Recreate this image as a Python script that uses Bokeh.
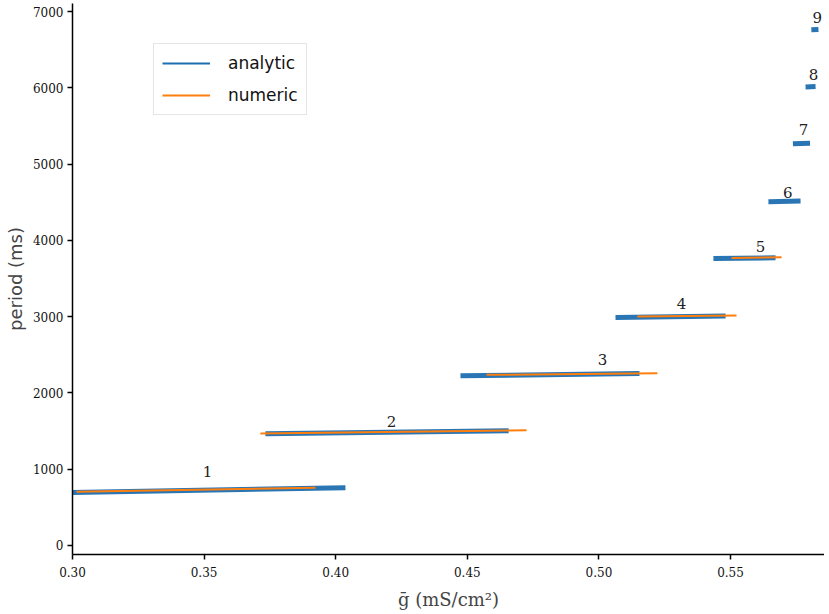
from bokeh.plotting import figure
from bokeh.models import Range1d, FixedTicker, NumeralTickFormatter, Legend, LegendItem, ColumnDataSource
from bokeh.core.properties import value
from bokeh.embed import file_html
from bokeh.resources import INLINE

# ---- data ----
analytic_x0 = [0.3000, 0.3733, 0.4474, 0.5063, 0.5435, 0.5644, 0.5737, 0.5785, 0.5807]
analytic_x1 = [0.4037, 0.4657, 0.5154, 0.5481, 0.5671, 0.5766, 0.5802, 0.5823, 0.5834]
analytic_y0 = [695, 1464, 2224, 2990, 3763, 4505, 5265, 6012, 6760]
analytic_y1 = [757, 1505, 2254, 3010, 3772, 4515, 5272, 6018, 6765]

numeric_x0 = [0.3015, 0.3714, 0.4573, 0.5146, 0.5504]
numeric_x1 = [0.3923, 0.4725, 0.5222, 0.5523, 0.5694]
numeric_y0 = [705, 1468, 2237, 3001, 3768]
numeric_y1 = [757, 1510, 2258, 3014, 3778]

label_text = ["1", "2", "3", "4", "5", "6", "7", "8", "9"]
label_x = [0.3513, 0.4212, 0.5014, 0.5314, 0.5614, 0.5717, 0.5777, 0.5815, 0.5830]
label_y = [970, 1625, 2440, 3170, 3920, 4630, 5450, 6175, 6920]

x_ticks = [0.30, 0.35, 0.40, 0.45, 0.50, 0.55]
y_ticks = [0, 1000, 2000, 3000, 4000, 5000, 6000, 7000]

BLUE = "#1f6fb0"
ORANGE = "#ff7f0e"
nan = float("nan")

p = figure(width=824, height=612, output_backend="svg", toolbar_location=None,
           x_range=Range1d(0.30, 0.5857), y_range=Range1d(-118, 7105),
           min_border_left=72, min_border_bottom=51, min_border_top=3, min_border_right=0)

p.outline_line_color = None
p.xgrid.visible = False
p.ygrid.visible = False

a_src = ColumnDataSource(dict(xs=[[a, b] for a, b in zip(analytic_x0, analytic_x1)],
                              ys=[[a, b] for a, b in zip(analytic_y0, analytic_y1)]))
n_src = ColumnDataSource(dict(xs=[[a, b] for a, b in zip(numeric_x0, numeric_x1)],
                              ys=[[a, b] for a, b in zip(numeric_y0, numeric_y1)]))

p.multi_line("xs", "ys", source=a_src, line_color=BLUE, line_width=5, line_alpha=0.95)
p.multi_line("xs", "ys", source=n_src, line_color=ORANGE, line_width=2)

p.text(x=label_x, y=label_y, text=label_text, text_align="center", text_baseline="middle",
       text_font=value("DejaVu Serif"), text_font_size="15px", text_color="#222222")

# legend proxies (thin lines, no visible data)
la = p.line(x=[nan, nan], y=[nan, nan], line_color=BLUE, line_width=2)
ln = p.line(x=[nan, nan], y=[nan, nan], line_color=ORANGE, line_width=2)
legend = Legend(items=[LegendItem(label="analytic", renderers=[la]),
                       LegendItem(label="numeric", renderers=[ln])],
                location=(81, 439))
legend.label_text_font = "DejaVu Sans"
legend.label_text_font_size = "17px"
legend.label_text_color = "#111111"
legend.glyph_width = 48
legend.glyph_height = 22
legend.label_standoff = 18
legend.spacing = 10
legend.padding = 8
legend.margin = 0
legend.border_line_color = "#cccccc"
legend.border_line_width = 1
legend.background_fill_alpha = 1.0
p.add_layout(legend, "center")

for ax in (p.xaxis[0], p.yaxis[0]):
    ax.axis_line_width = 1.5
    ax.axis_line_color = "black"
    ax.major_tick_line_width = 1.5
    ax.major_tick_out = 5
    ax.major_tick_in = 0
    ax.minor_tick_line_color = None
    ax.major_label_text_font = "DejaVu Serif"
    ax.major_label_text_font_size = "12px"
    ax.major_label_text_color = "#111111"

p.xaxis.ticker = FixedTicker(ticks=x_ticks)
p.yaxis.ticker = FixedTicker(ticks=y_ticks)
p.xaxis.formatter = NumeralTickFormatter(format="0.00")
p.xaxis.major_label_standoff = 7
p.yaxis.major_label_standoff = 4

p.xaxis.axis_label = "ḡ (mS/cm²)"
p.xaxis.axis_label_text_font = "DejaVu Serif"
p.xaxis.axis_label_text_font_style = "normal"
p.xaxis.axis_label_text_font_size = "18px"
p.xaxis.axis_label_standoff = 9

p.yaxis.axis_label = "period (ms)"
p.yaxis.axis_label_text_font = "DejaVu Sans"
p.yaxis.axis_label_text_font_style = "normal"
p.yaxis.axis_label_text_font_size = "18px"
p.yaxis.axis_label_standoff = 4

open("out.html", "w").write(file_html(p, INLINE))
